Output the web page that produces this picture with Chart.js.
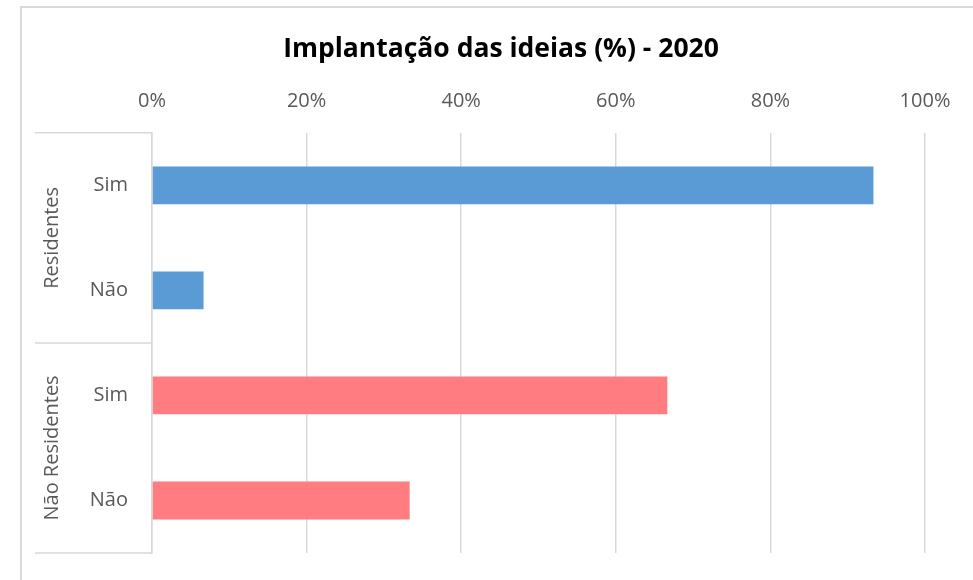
<!DOCTYPE html>
<html>
<head>
<meta charset="utf-8">
<script src="https://cdn.jsdelivr.net/npm/chart.js@4.4.0/dist/chart.umd.min.js"></script>
<style>
  html, body { margin: 0; padding: 0; background: #fff; overflow: hidden; }
  #frame { position: absolute; left: 20px; top: 6px; width: 1000px; height: 1000px; border: 2px solid #d9d9d9; }
  #wrap { position: absolute; left: 0; top: 0; width: 973px; height: 580px; }
</style>
</head>
<body>
<div id="frame"></div>
<div id="wrap"><canvas id="chart" width="973" height="580"></canvas></div>
<script>
const groups = ['Residentes', 'Não Residentes'];
const answers = ['Sim', 'Não', 'Sim', 'Não'];
const values = [93.33, 6.67, 66.67, 33.33];
const barColors = ['#5B9BD5', '#5B9BD5', '#FF7C80', '#FF7C80'];
const xMin = 0;
const xMax = 100;
const xStep = 20;

const fontFamily = "'Open Sans', sans-serif";
const gridColor = '#d9d9d9';
const textColor = '#595959';

// rótulos de grupo à esquerda (Residentes / Não Residentes) + linhas separadoras
const groupLabels = {
  id: 'groupLabels',
  afterLayout(chart) {
    // título centrado como no original (um pouco à direita)
    if (chart.titleBlock) chart.titleBlock.right += 42;
  },
  afterDraw(chart) {
    const { ctx, chartArea } = chart;
    const y = chart.scales.y;
    const per = answers.length / groups.length;
    const catH = (y.bottom - y.top) / answers.length;
    ctx.save();
    ctx.strokeStyle = gridColor;
    ctx.lineWidth = 1.5;
    for (let k = 0; k <= groups.length; k++) {
      const yy = y.top + k * per * catH;
      ctx.beginPath();
      ctx.moveTo(35, yy);
      ctx.lineTo(chartArea.left, yy);
      ctx.stroke();
    }
    ctx.fillStyle = textColor;
    ctx.font = '20px ' + fontFamily;
    ctx.textAlign = 'center';
    ctx.textBaseline = 'middle';
    groups.forEach((g, i) => {
      const cy = y.top + (i + 0.5) * per * catH;
      ctx.save();
      ctx.translate(52, cy);
      ctx.rotate(-Math.PI / 2);
      ctx.fillText(g, 0, 0);
      ctx.restore();
    });
    ctx.restore();
  }
};

new Chart(document.getElementById('chart'), {
  type: 'bar',
  data: {
    labels: answers,
    datasets: [
      {
        data: values,
        backgroundColor: barColors,
        borderWidth: 0,
        barPercentage: 0.36,
        categoryPercentage: 1
      }
    ]
  },
  options: {
    indexAxis: 'y',
    responsive: false,
    animation: false,
    layout: {
      padding: { left: 35, right: 48, top: 0, bottom: 27 }
    },
    scales: {
      x: {
        position: 'top',
        min: xMin,
        max: xMax,
        afterFit(scale) {
          scale.height = 60;
        },
        grid: {
          color: gridColor,
          lineWidth: 1.5,
          drawTicks: false
        },
        border: { display: false },
        ticks: {
          stepSize: xStep,
          padding: 20,
          color: textColor,
          font: { size: 20, family: fontFamily },
          callback: (v) => v + '%'
        }
      },
      y: {
        afterFit(scale) {
          scale.width = 117;
          scale.paddingTop = 0;
          scale.paddingBottom = 0;
        },
        grid: { display: false, drawTicks: false },
        border: { display: true, color: gridColor, width: 1.5 },
        ticks: {
          padding: 24,
          color: textColor,
          font: { size: 20, family: fontFamily }
        }
      }
    },
    plugins: {
      legend: { display: false },
      tooltip: { enabled: false },
      title: {
        display: true,
        text: 'Implantação das ideias (%) - 2020',
        color: '#000000',
        font: { size: 26.5, weight: 'bold', family: fontFamily },
        padding: { top: 34, bottom: 7 }
      }
    }
  },
  plugins: [groupLabels]
});
</script>
</body>
</html>
